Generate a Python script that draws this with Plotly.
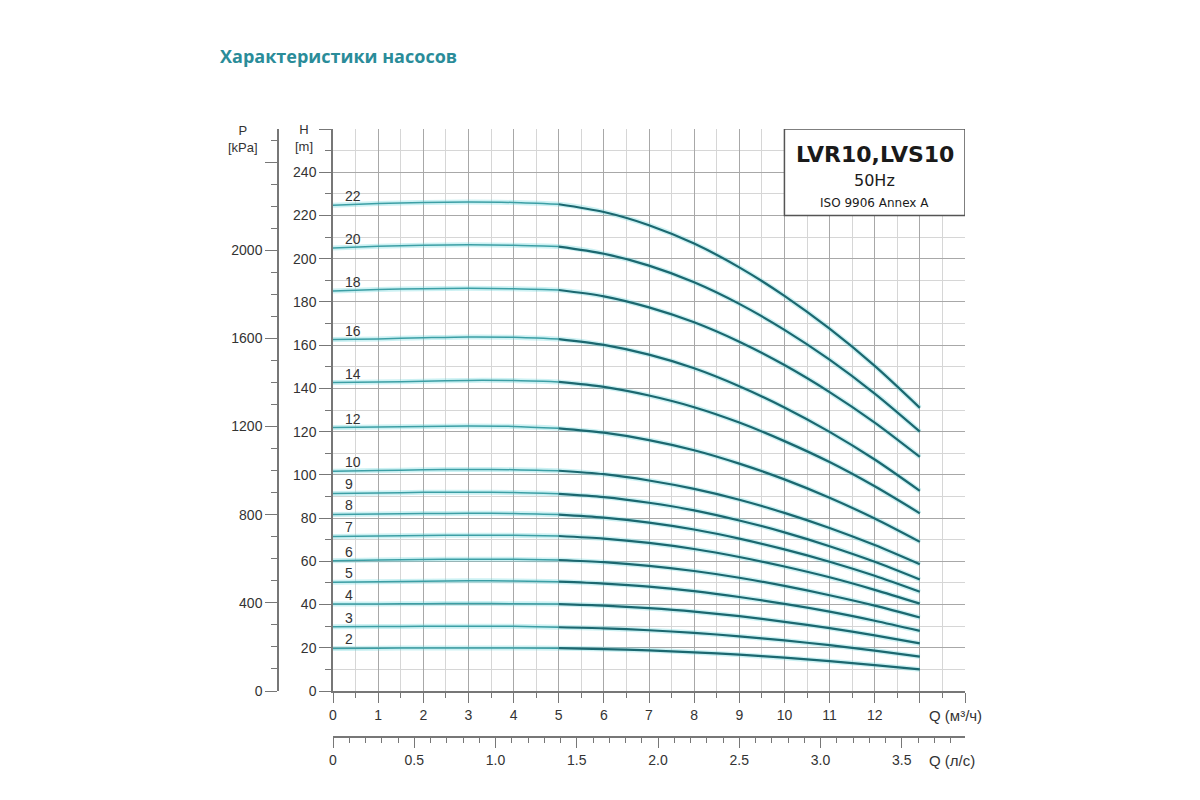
import plotly.graph_objects as go

# -------------------------
# Data
# -------------------------
q_m3h = [0, 1, 2, 3, 4, 5, 6, 7, 8, 9, 10, 11, 12, 13]

stage_labels = ["22", "20", "18", "16", "14", "12", "10", "9", "8", "7", "6", "5", "4", "3", "2"]

head_22 = [224.7, 225.5, 226.0, 226.2, 226.0, 225.2, 221.6, 215.5, 207.0, 196.0, 182.8, 167.6, 150.4, 131.0]
head_20 = [205.0, 205.7, 206.2, 206.4, 206.2, 205.6, 202.3, 196.8, 189.1, 179.1, 167.1, 153.3, 137.6, 120.0]
head_18 = [185.0, 185.7, 186.1, 186.3, 186.1, 185.5, 182.6, 177.5, 170.6, 161.6, 150.8, 138.3, 124.2, 108.3]
head_16 = [162.6, 162.9, 163.4, 163.8, 163.6, 162.8, 160.1, 155.6, 149.3, 141.0, 131.2, 119.9, 107.1, 92.6]
head_14 = [142.7, 142.9, 143.3, 143.7, 143.6, 143.0, 140.7, 136.7, 131.3, 124.2, 115.6, 105.9, 94.7, 82.2]
head_12 = [121.9, 122.1, 122.4, 122.6, 122.4, 121.5, 119.5, 116.1, 111.4, 105.2, 97.9, 89.4, 79.8, 69.0]
head_10 = [101.7, 102.0, 102.3, 102.5, 102.4, 101.9, 100.3, 97.4, 93.5, 88.5, 82.4, 75.4, 67.5, 58.6]
head_9 = [91.4, 91.6, 91.9, 92.0, 91.8, 91.2, 89.7, 87.1, 83.6, 78.9, 73.4, 67.0, 59.8, 51.6]
head_8 = [81.7, 81.9, 82.1, 82.2, 82.1, 81.6, 80.2, 77.9, 74.7, 70.5, 65.5, 59.8, 53.3, 45.9]
head_7 = [71.5, 71.7, 71.9, 72.1, 72.0, 71.7, 70.5, 68.5, 65.7, 62.0, 57.6, 52.6, 46.8, 40.4]
head_6 = [60.3, 60.6, 60.8, 61.0, 60.9, 60.6, 59.6, 57.9, 55.5, 52.4, 48.6, 44.3, 39.5, 34.0]
head_5 = [50.3, 50.5, 50.8, 51.0, 50.9, 50.6, 49.7, 48.3, 46.2, 43.5, 40.3, 36.7, 32.5, 27.8]
head_4 = [40.2, 40.3, 40.4, 40.5, 40.4, 40.2, 39.5, 38.3, 36.7, 34.6, 32.0, 29.1, 25.7, 22.0]
head_3 = [29.7, 29.8, 29.9, 30.0, 29.9, 29.5, 29.0, 28.1, 26.9, 25.3, 23.4, 21.2, 18.7, 15.9]
head_2 = [19.7, 19.8, 19.9, 19.9, 19.9, 19.8, 19.4, 18.8, 17.9, 16.8, 15.4, 13.8, 12.0, 10.0]

curves = [head_22, head_20, head_18, head_16, head_14, head_12, head_10, head_9,
          head_8, head_7, head_6, head_5, head_4, head_3, head_2]

# axis ticks
x_tickvals = list(range(15))
x_ticktext = [str(v) for v in range(13)] + ["", ""]
h_tickvals = list(range(0, 261, 20))
h_ticktext = [str(v) for v in range(0, 241, 20)] + [""]
p_tickvals = [0, 400, 800, 1200, 1600, 2000, 2400]
p_ticktext = ["0", "400", "800", "1200", "1600", "2000", ""]
ls_tickvals = [0, 0.5, 1.0, 1.5, 2.0, 2.5, 3.0, 3.5]
ls_ticktext = ["0", "0.5", "1.0", "1.5", "2.0", "2.5", "3.0", "3.5"]

Q_MAX = 14
H_MAX = 260
KPA_PER_M = 9.81
M3H_PER_LS = 3.6

# -------------------------
# Styling
# -------------------------
FONT = "Liberation Sans, Arial, sans-serif"
BOX_FONT = "DejaVu Sans, sans-serif"
TXT = "#333333"
LEFT_COLOR = "#3c9fa5"
RIGHT_COLOR = "#1b6870"
GLOW = "rgba(110,215,222,0.35)"
MAJOR_GRID = "#a8a8a8"
MINOR_GRID = "#d6d6d6"
AXIS_LINE = "#777777"

fig = go.Figure()

split = q_m3h.index(5)
for heads in curves:
    # soft halo under the line
    fig.add_trace(go.Scatter(
        x=q_m3h, y=heads, mode="lines",
        line=dict(color=GLOW, width=5, shape="spline", smoothing=0.8),
        hoverinfo="skip", showlegend=False,
    ))
    fig.add_trace(go.Scatter(
        x=q_m3h[:split + 1], y=heads[:split + 1], mode="lines",
        line=dict(color=LEFT_COLOR, width=1.5, shape="spline", smoothing=0.8),
        showlegend=False,
    ))
    fig.add_trace(go.Scatter(
        x=q_m3h[split:], y=heads[split:], mode="lines",
        line=dict(color=RIGHT_COLOR, width=2.2, shape="spline", smoothing=0.8),
        showlegend=False,
    ))

# helper traces so the secondary axes get drawn
fig.add_trace(go.Scatter(x=ls_tickvals, y=[0] * len(ls_tickvals), xaxis="x2", yaxis="y",
                         mode="markers", marker=dict(opacity=0), hoverinfo="skip", showlegend=False))
fig.add_trace(go.Scatter(x=[0] * len(p_tickvals), y=p_tickvals, xaxis="x", yaxis="y2",
                         mode="markers", marker=dict(opacity=0), hoverinfo="skip", showlegend=False))

# stage number labels
for label, heads in zip(stage_labels, curves):
    fig.add_annotation(x=0.22, y=heads[0], xref="x", yref="y", text=label,
                       showarrow=False, xanchor="left", yanchor="middle", yshift=9,
                       font=dict(family=FONT, size=14, color=TXT))

# model box
fig.add_shape(type="rect", xref="x", yref="y", x0=10, x1=Q_MAX, y0=220, y1=H_MAX,
              fillcolor="white", line=dict(color="#555555", width=1.5), layer="above")
fig.add_annotation(x=12, y=248, xref="x", yref="y", text="<b>LVR10,LVS10</b>", showarrow=False,
                   font=dict(family=BOX_FONT, size=22, color="#1a1a1a"))
fig.add_annotation(x=12, y=236.3, xref="x", yref="y", text="50Hz", showarrow=False,
                   font=dict(family=BOX_FONT, size=16, color="#1a1a1a"))
fig.add_annotation(x=12, y=225.8, xref="x", yref="y", text="ISO 9906 Annex A", showarrow=False,
                   font=dict(family=BOX_FONT, size=12, color="#1a1a1a"))

# axis captions (paper coords: x 192..992, y 92..772 on the page before the 8px body offset)
fig.add_annotation(x=(243 - 200) / 800, y=1 - (139 - 100) / 680, xref="paper", yref="paper",
                   text="P<br>[kPa]", showarrow=False, xanchor="center", yanchor="middle",
                   font=dict(family=FONT, size=13, color=TXT))
fig.add_annotation(x=(304 - 200) / 800, y=1 - (138 - 100) / 680, xref="paper", yref="paper",
                   text="H<br>[m]", showarrow=False, xanchor="center", yanchor="middle",
                   font=dict(family=FONT, size=13, color=TXT))
fig.add_annotation(x=13.15, y=1 - (715 - 100) / 680, xref="x", yref="paper", text="Q (м³/ч)",
                   showarrow=False, xanchor="left", yanchor="middle",
                   font=dict(family=FONT, size=15, color=TXT))
fig.add_annotation(x=13.15, y=1 - (760 - 100) / 680, xref="x", yref="paper", text="Q (л/с)",
                   showarrow=False, xanchor="left", yanchor="middle",
                   font=dict(family=FONT, size=15, color=TXT))

fig.update_layout(
    width=1200,
    height=800,
    margin=dict(l=192, r=208, t=92, b=28),
    paper_bgcolor="white",
    plot_bgcolor="white",
    font=dict(family=FONT, size=14, color=TXT),
    title=dict(text="<b>Характеристики насосов</b>", x=212 / 1200, xanchor="left",
               y=1 - 49 / 800, yanchor="middle",
               font=dict(family="Open Sans, sans-serif", size=18, color="#2a8c99")),
    xaxis=dict(
        domain=[0.16625, 0.95625], range=[0, Q_MAX],
        tickmode="array", tickvals=x_tickvals, ticktext=x_ticktext,
        ticks="outside", ticklen=10, tickcolor=AXIS_LINE,
        showgrid=True, gridcolor=MAJOR_GRID, gridwidth=1,
        minor=dict(dtick=0.5, ticks="outside", ticklen=5, tickcolor=AXIS_LINE,
                   showgrid=True, gridcolor=MINOR_GRID),
        showline=True, linecolor=AXIS_LINE, linewidth=1.5, zeroline=False,
    ),
    xaxis2=dict(
        overlaying="x", anchor="free", position=1 - (737 - 100) / 680, side="bottom",
        range=[0, Q_MAX / M3H_PER_LS],
        tickmode="array", tickvals=ls_tickvals, ticktext=ls_ticktext,
        ticks="outside", ticklen=10, tickcolor=AXIS_LINE,
        minor=dict(dtick=0.1, ticks="outside", ticklen=5, tickcolor=AXIS_LINE, showgrid=False),
        showgrid=False, showline=True, linecolor=AXIS_LINE, linewidth=1.5, zeroline=False,
    ),
    yaxis=dict(
        domain=[0.13088, 0.95735], range=[0, H_MAX],
        tickmode="array", tickvals=h_tickvals, ticktext=h_ticktext,
        ticks="outside", ticklen=12, tickcolor=AXIS_LINE,
        showgrid=True, gridcolor=MAJOR_GRID, gridwidth=1,
        minor=dict(dtick=10, ticks="outside", ticklen=6, tickcolor=AXIS_LINE,
                   showgrid=True, gridcolor=MINOR_GRID),
        showline=True, linecolor=AXIS_LINE, linewidth=1.5, zeroline=False,
    ),
    yaxis2=dict(
        overlaying="y", anchor="free", position=(278 - 200) / 800, side="left",
        range=[0, H_MAX * KPA_PER_M],
        tickmode="array", tickvals=p_tickvals, ticktext=p_ticktext,
        ticks="outside", ticklen=12, tickcolor=AXIS_LINE,
        minor=dict(dtick=100, ticks="outside", ticklen=6, tickcolor=AXIS_LINE, showgrid=False),
        showgrid=False, showline=True, linecolor=AXIS_LINE, linewidth=1.5, zeroline=False,
    ),
)

fig.write_html("out.html")
